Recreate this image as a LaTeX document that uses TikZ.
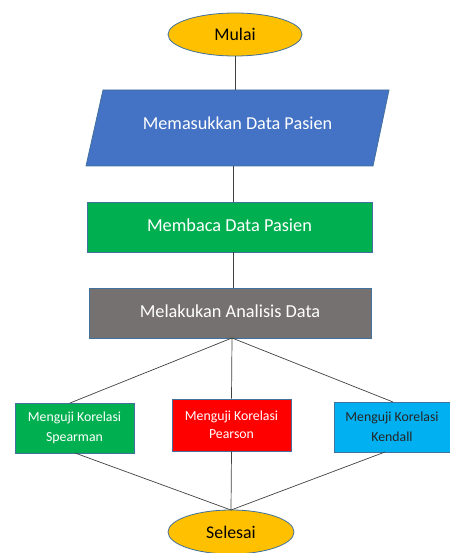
\documentclass[tikz,border=0pt]{standalone}
\usepackage{fontspec}
\setmainfont{Carlito}
\usetikzlibrary{shapes.geometric}
\definecolor{cyellow}{HTML}{FFC000}
\definecolor{cblue}{HTML}{4472C4}
\definecolor{cgreen}{HTML}{00B050}
\definecolor{cgrey}{HTML}{767171}
\definecolor{cred}{HTML}{FF0000}
\definecolor{ccyan}{HTML}{00B0F0}
\definecolor{cedge}{HTML}{41719C}
\tikzset{
  terminal/.style={ellipse, draw=cedge, line width=0.8pt, fill=cyellow, minimum width=134pt, minimum height=43pt, inner sep=0pt, font=\fontsize{17.8}{20}\selectfont, text=black},
  bigbox/.style={rectangle, draw=cedge, line width=0.8pt, minimum height=50pt, inner sep=0pt, font=\fontsize{18.3}{21}\selectfont, text=white},
  smallbox/.style={rectangle, draw=cedge, line width=0.8pt, minimum width=119pt, minimum height=50pt, inner sep=0pt, align=center, font=\fontsize{13.8}{19.5}\selectfont, text=white},
  link/.style={draw=black!75, line width=0.7pt}
}
\begin{document}
\begin{tikzpicture}[x=1pt,y=-1pt]
\useasboundingbox (0,0) rectangle (449,553);
\node[terminal] (mulai) at (235,34.5) {Mulai};
% parallelogram
\coordinate (ptl) at (103,90);
\coordinate (ptr) at (389,90);
\coordinate (pbr) at (373,166);
\coordinate (pbl) at (86,166);
\filldraw[fill=cblue, draw=cedge, line width=0.8pt] (ptl) -- (ptr) -- (pbr) -- (pbl) -- cycle;
\node[text=white, font=\fontsize{18.2}{21}\selectfont] (input) at (237.5,123.5) {Memasukkan Data Pasien};
\coordinate (ptop) at (235,90);
\coordinate (pbot) at (233,166);
\node[bigbox, fill=cgreen, minimum width=285pt] (baca) at (229.5,227) {\raisebox{4pt}{Membaca Data Pasien}};
\node[bigbox, fill=cgrey, minimum width=282pt] (analisis) at (230,313) {\raisebox{4pt}{Melakukan Analisis Data}};
\node[smallbox, fill=cgreen] (spear) at (74.5,428) {Menguji Korelasi\\Spearman};
\node[smallbox, fill=cred, minimum height=52pt, font=\fontsize{13.8}{18.5}\selectfont] (pears) at (231.5,425) {Menguji Korelasi\\Pearson};
\node[smallbox, fill=ccyan, minimum width=116pt, text=black!85] (kend) at (392,427) {Menguji Korelasi\\Kendall};
\node[terminal, minimum width=126pt, minimum height=44pt] (selesai) at (231,532) {Selesai};
\coordinate (asrc) at (232,338);
\coordinate (stop) at (70,403);
\coordinate (ktop) at (393,402);
\coordinate (sbot) at (75,453);
\coordinate (kbot) at (385,452);
\coordinate (etop) at (231,510);
\draw[link] (mulai.south) -- (ptop);
\draw[link] (pbot) -- (baca.north -| pbot);
\draw[link] (baca.south -| pbot) -- (analisis.north -| pbot);
\draw[link] (asrc) -- (stop);
\draw[link] (asrc) -- (pears.north);
\draw[link] (asrc) -- (ktop);
\draw[link] (sbot) -- (etop);
\draw[link] (pears.south) -- (etop);
\draw[link] (kbot) -- (etop);
\end{tikzpicture}
\end{document}
